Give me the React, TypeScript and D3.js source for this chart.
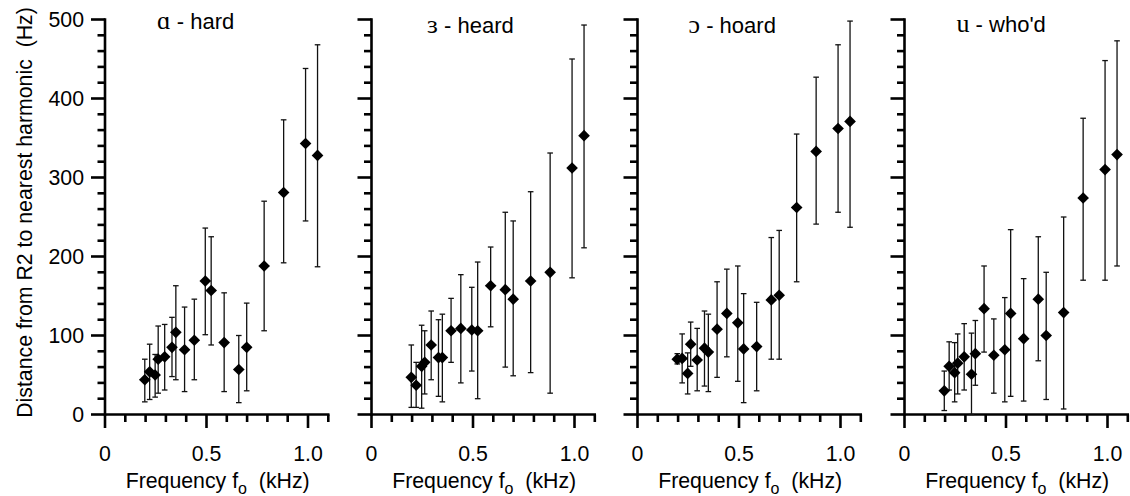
import React from "react";
import * as d3 from "d3";

// ---- Data (fundamental frequency in kHz, musical notes G3..C6) ----
const FO = [0.196, 0.22, 0.247, 0.262, 0.294, 0.33, 0.349, 0.392, 0.44, 0.494, 0.523, 0.587, 0.659, 0.698, 0.784, 0.88, 0.988, 1.047];

// ɑ - hard
const HARD_MEAN = [44, 54, 50, 70, 73, 85, 104, 82, 94, 169, 157, 91, 57, 85, 188, 281, 343, 328];
const HARD_LO = [16, 19, 22, 27, 31, 48, 44, 29, 44, 101, 88, 29, 15, 30, 106, 192, 245, 187];
const HARD_HI = [70, 89, 76, 112, 114, 123, 163, 136, 146, 236, 225, 154, 100, 141, 270, 373, 438, 468];

// ɜ - heard
const HEARD_MEAN = [47, 37, 61, 66, 88, 72, 72, 106, 109, 107, 106, 163, 158, 146, 169, 180, 312, 353];
const HEARD_LO = [9, 9, 8, 26, 44, 23, 16, 66, 40, 55, 20, 111, 60, 49, 53, 27, 173, 211];
const HEARD_HI = [88, 66, 113, 106, 131, 120, 127, 147, 177, 161, 193, 212, 256, 245, 282, 331, 450, 493];

// ɔ - hoard
const HOARD_MEAN = [70, 71, 52, 89, 69, 84, 79, 108, 128, 116, 83, 86, 145, 151, 262, 333, 362, 371];
const HOARD_LO = [64, 40, 26, 61, 30, 36, 29, 47, 73, 42, 15, 30, 70, 70, 168, 241, 256, 237];
const HOARD_HI = [77, 102, 78, 117, 109, 131, 127, 168, 184, 188, 153, 142, 224, 233, 355, 427, 468, 498];

// u - who'd
const WHOD_MEAN = [30, 61, 53, 65, 73, 51, 77, 134, 75, 82, 128, 96, 146, 100, 129, 274, 310, 329];
const WHOD_LO = [5, 31, 16, 26, 31, 0, 37, 79, 27, 16, 23, 17, 68, 19, 7, 170, 170, 188];
const WHOD_HI = [55, 92, 91, 102, 115, 103, 119, 188, 121, 148, 234, 172, 225, 180, 250, 375, 448, 473];

const PANEL_IPA = ["\u0251", "\u025C", "\u0254", "u"];
const PANEL_WORD = ["hard", "heard", "hoard", "who'd"];

const X_TICKS = [0, 0.1, 0.2, 0.3, 0.4, 0.5, 0.6, 0.7, 0.8, 0.9, 1.0, 1.1];
const X_LABELS = ["0", "0.5", "1.0"];
const Y_TICKS = d3.range(0, 501, 20);
const Y_LABELS = ["0", "100", "200", "300", "400", "500"];

const SERIES = [
  { mean: HARD_MEAN, lo: HARD_LO, hi: HARD_HI },
  { mean: HEARD_MEAN, lo: HEARD_LO, hi: HEARD_HI },
  { mean: HOARD_MEAN, lo: HOARD_LO, hi: HOARD_HI },
  { mean: WHOD_MEAN, lo: WHOD_LO, hi: WHOD_HI },
];

// ---- Layout ----
const W = 1130;
const H = 496;
const AXIS_X = [105, 371.5, 637.5, 904.5];
const PX_PER_KHZ = 203;
const Y0 = 414.5;
const Y500 = 19.5;
const TITLE_DX = [52, 55.5, 51, 52];
const TITLE_Y = [29, 33, 33, 32];
const SANS = "'Liberation Sans', Arial, Helvetica, sans-serif";
const SERIF = "'Liberation Serif', 'DejaVu Serif', 'Times New Roman', serif";
const FS = 21.3;

const diamond = d3.symbol(d3.symbolSquare, 68)();

export default function App() {
  const y = d3.scaleLinear().domain([0, 500]).range([Y0, Y500]);

  return (
    <svg
      width={W}
      height={H}
      viewBox={`0 0 ${W} ${H}`}
      style={{ position: "absolute", left: 0, top: 0, background: "#fff" }}
    >
      <rect x={0} y={0} width={W} height={H} fill="#fff" />
      {/* Y axis title */}
      <text
        transform={`translate(32, 212.5) rotate(-90)`}
        textAnchor="middle"
        fontFamily={SANS}
        fontSize={FS}
        fill="#000"
        style={{ whiteSpace: "pre" }}
      >
        {"Distance from R2 to nearest harmonic  (Hz)"}
      </text>

      {SERIES.map((s, pi) => {
        const ax = AXIS_X[pi];
        const x = d3.scaleLinear().domain([0, 1.1]).range([ax, ax + 1.1 * PX_PER_KHZ]);
        const xMid = x(0.555);
        return (
          <g key={pi}>
            {/* title */}
            <text x={ax + TITLE_DX[pi]} y={TITLE_Y[pi]} fontSize={22} fontFamily={SANS} fill="#000" style={{ whiteSpace: "pre" }}>
              <tspan fontFamily={SERIF} fontSize={26}>{PANEL_IPA[pi]}</tspan>
              <tspan>{" - " + PANEL_WORD[pi]}</tspan>
            </text>

            {/* y axis */}
            <line x1={ax} x2={ax} y1={y(500) - 1.2} y2={y(0) + 1.2} stroke="#000" strokeWidth={2.6} />
            {Y_TICKS.map((t) => {
              const major = t % 100 === 0;
              return (
                <line
                  key={"yt" + t}
                  x1={ax - (major ? 14 : 7.5)}
                  x2={ax}
                  y1={y(t)}
                  y2={y(t)}
                  stroke="#000"
                  strokeWidth={2.6}
                />
              );
            })}
            {pi === 0 &&
              Y_LABELS.map((l) => (
                <text
                  key={"yl" + l}
                  x={ax - 21}
                  y={y(+l) + 7.5}
                  textAnchor="end"
                  fontFamily={SANS}
                  fontSize={FS}
                  fill="#000"
                >
                  {l}
                </text>
              ))}

            {/* x axis */}
            <line x1={ax} x2={x(1.1) + 1.2} y1={y(0)} y2={y(0)} stroke="#000" strokeWidth={2.6} />
            {X_TICKS.map((t) => {
              const major = Math.abs(t * 2 - Math.round(t * 2)) < 1e-6;
              return (
                <line
                  key={"xt" + t}
                  x1={x(t)}
                  x2={x(t)}
                  y1={y(0)}
                  y2={y(0) + (major ? 13.5 : 7.5)}
                  stroke="#000"
                  strokeWidth={2.6}
                />
              );
            })}
            {X_LABELS.map((l) => (
              <text
                key={"xl" + l}
                x={x(+l)}
                y={460.5}
                textAnchor="middle"
                fontFamily={SANS}
                fontSize={FS}
                fill="#000"
              >
                {l}
              </text>
            ))}
            <text x={xMid} y={488} textAnchor="middle" fontFamily={SANS} fontSize={FS} fill="#000" style={{ whiteSpace: "pre" }}>
              <tspan>{"Frequency f"}</tspan>
              <tspan fontSize={16} dy={6}>{"o"}</tspan>
              <tspan dy={-6}>{"  (kHz)"}</tspan>
            </text>

            {/* error bars */}
            {FO.map((f, i) => {
              const cx = x(f);
              const yl = y(s.lo[i]);
              const yh = y(s.hi[i]);
              return (
                <g key={"eb" + i} stroke="#111" strokeWidth={1.3}>
                  <line x1={cx} x2={cx} y1={yl} y2={yh} />
                  <line x1={cx - 2.8} x2={cx + 2.8} y1={yl} y2={yl} />
                  <line x1={cx - 2.8} x2={cx + 2.8} y1={yh} y2={yh} />
                </g>
              );
            })}
            {/* markers */}
            {FO.map((f, i) => (
              <path
                key={"m" + i}
                d={diamond as string}
                transform={`translate(${x(f)},${y(s.mean[i])}) rotate(45)`}
                fill="#000"
              />
            ))}
          </g>
        );
      })}
    </svg>
  );
}
